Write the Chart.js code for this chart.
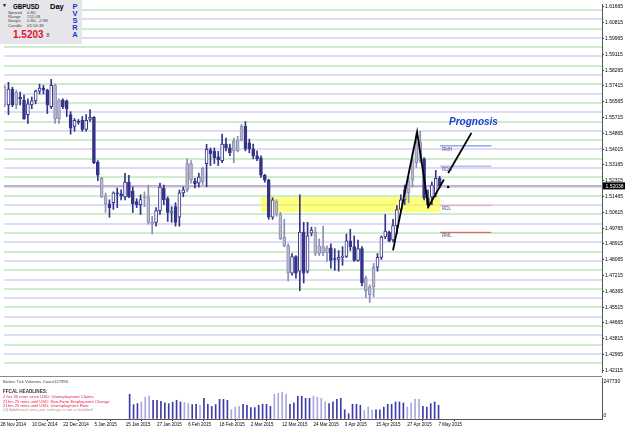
<!DOCTYPE html>
<html>
<head>
<meta charset="utf-8">
<script src="https://cdn.jsdelivr.net/npm/chart.js@4.4.1/dist/chart.umd.min.js"></script>
<style>
  html, body { margin: 0; padding: 0; background: #fff; }
  #wrap { position: relative; width: 625px; height: 429px; overflow: hidden; font-family: 'Liberation Sans', Arial, sans-serif; }
  canvas { position: absolute; left: 0; }
  #price { top: 0; }
  #vol { top: 377px; }
  .t { position: absolute; white-space: nowrap; line-height: 1; }
  .b { font-weight: bold; }
  .s { font-size: 4.3px; color: #444; }
  .n { font-size: 4.2px; color: #e8204a; }
  #info { position: absolute; left: 0; top: 0; width: 82px; height: 44px; background: #e6e6ea; }
  #pvsra { position: absolute; left: 72px; top: 3px; width: 6px; font: bold 7.5px 'Liberation Sans', sans-serif; line-height: 7.1px; color: #2233cc; text-align: center; }
  #sep { position: absolute; left: 0; top: 376px; width: 602px; height: 1px; background: #8a8a8a; }
</style>
</head>
<body>
<div id="wrap">
  <canvas id="price" width="625" height="376"></canvas>
  <canvas id="vol" width="625" height="52"></canvas>
  <div id="sep"></div>

  <div id="info">
    <span class="t" style="left:2px;top:3px;font-size:5px;">&#9660;</span>
    <span class="t b" style="left:13px;top:2.5px;font-size:7.5px;transform:scaleX(0.82);transform-origin:left;">GBPUSD</span>
    <span class="t b" style="left:50px;top:2.5px;font-size:7.5px;">Day</span>
    <span class="t s" style="left:8px;top:10.8px;">Spread</span><span class="t s" style="left:27px;top:10.8px;">0.80</span>
    <span class="t s" style="left:8px;top:15.2px;">Range</span><span class="t s" style="left:27px;top:15.2px;">151.08</span>
    <span class="t s" style="left:8px;top:19.3px;">Swaps</span><span class="t s" style="left:27px;top:19.3px;">0.80, -2.98</span>
    <span class="t s" style="left:8px;top:23.6px;">Candle</span><span class="t s" style="left:27px;top:23.6px;">05:54:39</span>
    <span class="t b" style="left:13px;top:30px;font-size:10px;color:#e8102c;">1.5203</span>
    <span class="t" style="left:46.5px;top:33px;font-size:5px;color:#333;">8</span>
    <div id="pvsra">P<br>V<br>S<br>R<br>A</div>
  </div>

  <span class="t" style="left:449px;top:117px;font-size:10px;font-weight:bold;font-style:italic;color:#1c3fd0;">Prognosis</span>

  <span class="t s" style="left:3px;top:379.6px;font-size:4.2px;">Broker Tick Volumes</span>
  <span class="t s" style="left:42.7px;top:379.6px;font-size:4.2px;">Count</span>
  <span class="t s" style="left:54px;top:379.6px;font-size:4.2px;">127990</span>
  <span class="t b" style="left:3px;top:390.4px;font-size:4.6px;color:#333;">FFCAL HEADLINES:</span>
  <span class="t n" style="left:3px;top:395.2px;">2 hrs 35 mins since USD: Unemployment Claims</span>
  <span class="t n" style="left:3px;top:399.6px;">21hrs 25 mins until USD: Non-Farm Employment Change</span>
  <span class="t n" style="left:3px;top:403.9px;">21hrs 25 mins until USD: Unemployment Rate</span>
  <span class="t" style="left:3px;top:407.9px;font-size:4.2px;color:#a0a0a0;">(4) Additional news per settings is not scheduled</span>
</div>

<script>
// GBPUSD daily, 28 Nov 2014 .. 7 May 2015 (one bar per trading day)
const dateLabels = ['28 Nov 2014', '10 Dec 2014', '22 Dec 2014', '5 Jan 2015', '15 Jan 2015', '27 Jan 2015',
  '6 Feb 2015', '18 Feb 2015', '2 Mar 2015', '12 Mar 2015', '24 Mar 2015', '3 Apr 2015', '15 Apr 2015',
  '27 Apr 2015', '7 May 2015'];
const labelEvery = 8;

const opens = [1.5735, 1.5640, 1.5724, 1.5709, 1.5682, 1.5666, 1.5587, 1.5640, 1.5661, 1.5714,
  1.5730, 1.5719, 1.5630, 1.5745, 1.5566, 1.5666, 1.5661, 1.5587, 1.5524, 1.5551,
  1.5556, 1.5508, 1.5561, 1.5572, 1.5330, 1.5245, 1.5150, 1.5108, 1.5114, 1.5166,
  1.5161, 1.5145, 1.5224, 1.5177, 1.5119, 1.5103, 1.5140, 1.5145, 1.5008, 1.5008,
  1.5071, 1.5192, 1.5135, 1.5061, 1.5092, 1.5035, 1.5166, 1.5182, 1.5324, 1.5230,
  1.5219, 1.5226, 1.5323, 1.5398, 1.5390, 1.5360, 1.5340, 1.5429, 1.5408, 1.5445,
  1.5392, 1.5450, 1.5524, 1.5435, 1.5403, 1.5366, 1.5355, 1.5261, 1.5235, 1.5035,
  1.5119, 1.5050, 1.4929, 1.4882, 1.4735, 1.4824, 1.4745, 1.4956, 1.4745, 1.4950,
  1.4956, 1.4840, 1.4877, 1.4845, 1.4871, 1.4813, 1.4808, 1.4819, 1.4824, 1.4908,
  1.4877, 1.4803, 1.4866, 1.4708, 1.4661, 1.4661, 1.4766, 1.4819, 1.4929, 1.4956,
  1.4913, 1.4990, 1.5077, 1.5129, 1.5166, 1.5235, 1.5329, 1.5440, 1.5350, 1.5140,
  1.5145, 1.5162, 1.5245];
const highs = [1.5745, 1.5761, 1.5735, 1.5719, 1.5709, 1.5693, 1.5672, 1.5682, 1.5719, 1.5751,
  1.5745, 1.5724, 1.5777, 1.5751, 1.5672, 1.5672, 1.5666, 1.5603, 1.5566, 1.5561,
  1.5577, 1.5587, 1.5614, 1.5577, 1.5340, 1.5250, 1.5166, 1.5129, 1.5172, 1.5192,
  1.5182, 1.5272, 1.5261, 1.5198, 1.5135, 1.5156, 1.5172, 1.5208, 1.5040, 1.5087,
  1.5219, 1.5208, 1.5145, 1.5092, 1.5113, 1.5182, 1.5198, 1.5350, 1.5340, 1.5245,
  1.5272, 1.5305, 1.5428, 1.5408, 1.5408, 1.5390, 1.5482, 1.5461, 1.5429, 1.5461,
  1.5471, 1.5535, 1.5550, 1.5456, 1.5429, 1.5392, 1.5366, 1.5266, 1.5240, 1.5140,
  1.5129, 1.5061, 1.5024, 1.4892, 1.4840, 1.4829, 1.5156, 1.5008, 1.5008, 1.4982,
  1.4982, 1.4919, 1.4987, 1.4882, 1.4892, 1.4866, 1.4856, 1.4877, 1.4945, 1.4971,
  1.4935, 1.4913, 1.4877, 1.4719, 1.4672, 1.4787, 1.4840, 1.4935, 1.5050, 1.4961,
  1.5024, 1.5098, 1.5156, 1.5208, 1.5250, 1.5382, 1.5487, 1.5498, 1.5356, 1.5182,
  1.5224, 1.5287, 1.5256];
const lows = [1.5630, 1.5587, 1.5630, 1.5619, 1.5640, 1.5561, 1.5540, 1.5619, 1.5645, 1.5698,
  1.5698, 1.5593, 1.5619, 1.5540, 1.5540, 1.5619, 1.5577, 1.5482, 1.5498, 1.5535,
  1.5498, 1.5498, 1.5551, 1.5324, 1.5232, 1.5140, 1.5061, 1.5035, 1.5077, 1.5087,
  1.5129, 1.5129, 1.5140, 1.5061, 1.5087, 1.5050, 1.5092, 1.4998, 1.4945, 1.4987,
  1.5050, 1.5103, 1.5013, 1.5008, 1.4987, 1.4987, 1.5145, 1.5172, 1.5219, 1.5193,
  1.5198, 1.5210, 1.5199, 1.5313, 1.5324, 1.5314, 1.5329, 1.5392, 1.5366, 1.5329,
  1.5387, 1.5445, 1.5392, 1.5382, 1.5350, 1.5340, 1.5250, 1.5224, 1.5024, 1.5024,
  1.5040, 1.4915, 1.4877, 1.4692, 1.4724, 1.4708, 1.4640, 1.4682, 1.4735, 1.4935,
  1.4829, 1.4829, 1.4829, 1.4798, 1.4761, 1.4750, 1.4745, 1.4777, 1.4819, 1.4856,
  1.4798, 1.4798, 1.4666, 1.4603, 1.4577, 1.4608, 1.4745, 1.4808, 1.4919, 1.4903,
  1.4903, 1.4945, 1.5066, 1.5103, 1.5113, 1.5198, 1.5303, 1.5329, 1.5129, 1.5087,
  1.5103, 1.5145, 1.5193];
const closes = [1.5640, 1.5724, 1.5640, 1.5640, 1.5672, 1.5566, 1.5645, 1.5661, 1.5714, 1.5730,
  1.5719, 1.5640, 1.5745, 1.5566, 1.5666, 1.5630, 1.5619, 1.5514, 1.5556, 1.5545,
  1.5508, 1.5556, 1.5572, 1.5329, 1.5262, 1.5145, 1.5108, 1.5087, 1.5166, 1.5161,
  1.5150, 1.5224, 1.5145, 1.5108, 1.5103, 1.5130, 1.5145, 1.5008, 1.4998, 1.5071,
  1.5198, 1.5129, 1.5061, 1.5066, 1.5008, 1.5166, 1.5182, 1.5324, 1.5235, 1.5214,
  1.5251, 1.5298, 1.5401, 1.5377, 1.5355, 1.5345, 1.5429, 1.5408, 1.5382, 1.5392,
  1.5450, 1.5524, 1.5403, 1.5403, 1.5366, 1.5350, 1.5261, 1.5235, 1.5035, 1.5129,
  1.5050, 1.4919, 1.4882, 1.4735, 1.4824, 1.4735, 1.4956, 1.4735, 1.4935, 1.4966,
  1.4840, 1.4882, 1.4845, 1.4871, 1.4803, 1.4808, 1.4819, 1.4824, 1.4908, 1.4877,
  1.4803, 1.4866, 1.4682, 1.4640, 1.4619, 1.4766, 1.4819, 1.4929, 1.4961, 1.4908,
  1.4990, 1.5077, 1.5129, 1.5182, 1.5229, 1.5340, 1.5435, 1.5340, 1.5140, 1.5103,
  1.5208, 1.5245, 1.52038];

// bars marked by the PVSRA volume filter (grey candles, light volume bars)
const pvsraBars = [0, 3, 13, 14, 25, 26, 36, 37, 38, 47, 48, 51, 59, 60, 61, 70, 71, 72, 73,
  80, 81, 82, 83, 93, 94, 95, 104, 105, 106, 107];

// tick volumes, history starts at bar 33
const volStart = 33;
const volumes = [150000, 87000, 93000, 103000, 133000, 139000, 113000, 113000, 107000, 97000,
  93000, 101000, 113000, 103000, 99000, 93000, 87000, 89000, 83000, 125000,
  89000, 76000, 87000, 119000, 119000, 113000, 56000, 72000, 76000, 89000,
  83000, 69000, 69000, 83000, 89000, 89000, 76000, 150000, 156000, 162000,
  150000, 89000, 97000, 138000, 138000, 125000, 125000, 138000, 132000, 125000,
  103000, 93000, 103000, 119000, 125000, 56000, 32000, 89000, 89000, 83000,
  52000, 72000, 52000, 56000, 56000, 72000, 89000, 89000, 103000, 103000,
  97000, 72000, 97000, 119000, 119000, 76000, 72000, 93000, 103000, 83000];
const volMax = 247730;

const priceTicks = [1.42115, 1.42965, 1.43815, 1.44665, 1.45515, 1.46365, 1.47215, 1.48065,
  1.48915, 1.49765, 1.50615, 1.51465, 1.52315, 1.53165, 1.54015, 1.54865, 1.55715, 1.56565,
  1.57415, 1.58265, 1.59115, 1.59965, 1.60815, 1.61665];

const bid = 1.52038;

// drawn objects: support zone, daily/monthly levels, zigzag and the prognosis arrow
const zoneFrom = 65.9, zoneTo = 112.1, zoneTop = 1.5144, zoneBottom = 1.5063;
const levelNames = ['RMH', 'RDH', 'RDL', 'RML'];
const levelPrices = [1.5419, 1.5310, 1.5098, 1.4954];
const levelFrom = 112.1, levelTo = 125.3;
const zigzagIdx = [100.0, 106.2, 109.1, 113.1];
const zigzagPrice = [1.4857, 1.5494, 1.5091, 1.5238];
const progIdx = [114.2, 120.2];
const progPrice = [1.5273, 1.5489];
const dotIdx = [114.2], dotPrice = [1.5198];

// ── view ─────────────────────────────────────────────
const xMin = -0.153, xMax = 153.8;
const yMin = 1.42027, yMax = 1.61823;
const AXIS_W = 23;
const NAVY = '#34348a', GREY_FILL = '#b9b9cf', GREY_LINE = '#8e8eb2';
const GREEN = '#cdeccd', LAV = '#dcdcf5';
const levelColors = ['#5a78e0', '#90a0ec', '#f0a4a4', '#e05050'];
const FONT = 'Liberation Sans';

const isPv = i => pvsraBars.includes(i);
const idx = opens.map((_, i) => i);
const pts = (xs, ys) => xs.map((x, k) => ({ x, y: ys[k] }));

const gridLevels = [];
for (let v = 1425; v <= 1615; v += 5) gridLevels.push(v / 1000);

const markPlugin = {
    id: 'marks',
    afterDatasetsDraw(chart) {
        const { ctx, scales: { x, y } } = chart;
        ctx.save();
        ctx.font = `4.5px "${FONT}"`;
        ctx.fillStyle = '#4a4a8a';
        ctx.textBaseline = 'middle';
        levelNames.forEach((n, k) => ctx.fillText(n, x.getPixelForValue(levelFrom) + 2, y.getPixelForValue(levelPrices[k]) + 3.5));
        const by = y.getPixelForValue(bid);
        ctx.fillStyle = '#000';
        ctx.fillRect(x.right + 1, by - 3.5, AXIS_W - 1, 7);
        ctx.fillStyle = '#fff';
        ctx.font = `5px "${FONT}"`;
        ctx.fillText(bid.toFixed(5), x.right + 3.5, by + 0.3);
        ctx.restore();
    }
};

// volume scale labels sit just inside the pane, as in the terminal
const volLabels = {
    id: 'volLabels',
    afterDraw(chart) {
        const { ctx, scales: { y } } = chart;
        ctx.save();
        ctx.font = `5px "${FONT}"`;
        ctx.fillStyle = '#000';
        ctx.textBaseline = 'middle';
        ctx.fillText(String(volMax), y.left + 1.5, y.getPixelForValue(volMax) + 3.5);
        ctx.fillText('0', y.left + 1.5, y.getPixelForValue(0) - 3);
        ctx.restore();
    }
};

const line = (data, color, width, order, extra = {}) => ({
    type: 'line', data, borderColor: color, borderWidth: width, pointRadius: 0,
    fill: false, tension: 0, order, ...extra
});

new Chart(document.getElementById('price'), {
    type: 'bar',
    data: {
        datasets: [
            line(pts(dotIdx, dotPrice), '#000', 0, 0, { pointRadius: 1.3, pointBackgroundColor: '#000', pointBorderWidth: 0, showLine: false }),
            line(pts(progIdx, progPrice), '#000', 1.8, 1),
            line(pts(zigzagIdx, zigzagPrice), '#000', 1.8, 2),
            ...levelPrices.map((p, k) => line(pts([levelFrom, levelTo], [p, p]), levelColors[k], 1, 3)),
            { type: 'bar', data: idx.map(i => ({ x: i, y: [opens[i], closes[i]] })), order: 4, grouped: false,
              barThickness: 3, minBarLength: 1, borderWidth: 1, borderSkipped: false,
              backgroundColor: idx.map(i => isPv(i) ? GREY_FILL : (closes[i] >= opens[i] ? '#fff' : NAVY)),
              borderColor: idx.map(i => isPv(i) ? GREY_LINE : NAVY) },
            { type: 'bar', data: idx.map(i => ({ x: i, y: [lows[i], highs[i]] })), order: 5, grouped: false,
              barThickness: 1, borderWidth: 0,
              backgroundColor: idx.map(i => isPv(i) ? GREY_LINE : NAVY) },
            line(pts([xMin, xMax], [bid, bid]), '#8c8ca0', 1, 8),
            line(pts([zoneFrom, zoneTo], [zoneTop, zoneTop]), 'transparent', 0, 10, { fill: '+1', backgroundColor: 'rgba(255,255,40,0.6)' }),
            line(pts([zoneFrom, zoneTo], [zoneBottom, zoneBottom]), 'transparent', 0, 11)
        ]
    },
    options: {
        responsive: false, animation: false, events: [],
        layout: { padding: 0 },
        plugins: { legend: { display: false }, tooltip: { enabled: false } },
        scales: {
            x: { type: 'linear', min: xMin, max: xMax, offset: false, display: false },
            yg: {
                type: 'linear', position: 'left', min: yMin, max: yMax,
                afterBuildTicks: s => { s.ticks = gridLevels.map(v => ({ value: v })); },
                afterFit: s => { s.width = 0; s.paddingTop = 0; s.paddingBottom = 0; },
                ticks: { display: false },
                border: { display: false },
                grid: { drawTicks: false, lineWidth: 2, color: c => (Math.round(c.tick.value * 1000) % 10 === 5 ? GREEN : LAV) }
            },
            y: {
                type: 'linear', position: 'right', min: yMin, max: yMax,
                afterBuildTicks: s => { s.ticks = priceTicks.map(v => ({ value: v })); },
                afterFit: s => { s.width = AXIS_W; s.paddingTop = 0; s.paddingBottom = 0; },
                ticks: { callback: v => v.toFixed(5), font: { family: FONT, size: 5 }, color: '#000', padding: 1 },
                border: { color: '#555' },
                grid: { drawOnChartArea: false, tickLength: 2, tickColor: '#333' }
            }
        }
    },
    plugins: [markPlugin]
});

new Chart(document.getElementById('vol'), {
    type: 'bar',
    data: {
        datasets: [{
            data: volumes.map((v, k) => ({ x: volStart + k, y: v })),
            grouped: false, barThickness: 1, borderWidth: 0,
            backgroundColor: volumes.map((_, k) => isPv(volStart + k) ? '#a9a9dc' : '#3c3ca8')
        }]
    },
    options: {
        responsive: false, animation: false, events: [],
        layout: { padding: { top: 1 } },
        plugins: { legend: { display: false }, tooltip: { enabled: false } },
        scales: {
            x: {
                type: 'linear', min: xMin, max: xMax, offset: false, position: 'bottom',
                afterBuildTicks: s => { s.ticks = dateLabels.map((_, k) => ({ value: k * labelEvery })); },
                afterFit: s => { s.height = 10; s.paddingLeft = 0; s.paddingRight = 0; },
                ticks: { align: 'start', autoSkip: false, maxRotation: 0, minRotation: 0, padding: 1,
                         callback: (v, k) => dateLabels[k], font: { family: FONT, size: 4.5 }, color: '#000' },
                border: { color: '#555' },
                grid: { drawOnChartArea: false, tickLength: 2, tickColor: '#333' }
            },
            y: {
                type: 'linear', position: 'right', min: 0, max: volMax,
                afterFit: s => { s.width = AXIS_W; s.paddingTop = 0; s.paddingBottom = 0; },
                ticks: { display: false },
                border: { color: '#555' },
                grid: { drawOnChartArea: false, drawTicks: false }
            }
        }
    },
    plugins: [volLabels]
});
</script>
</body>
</html>
